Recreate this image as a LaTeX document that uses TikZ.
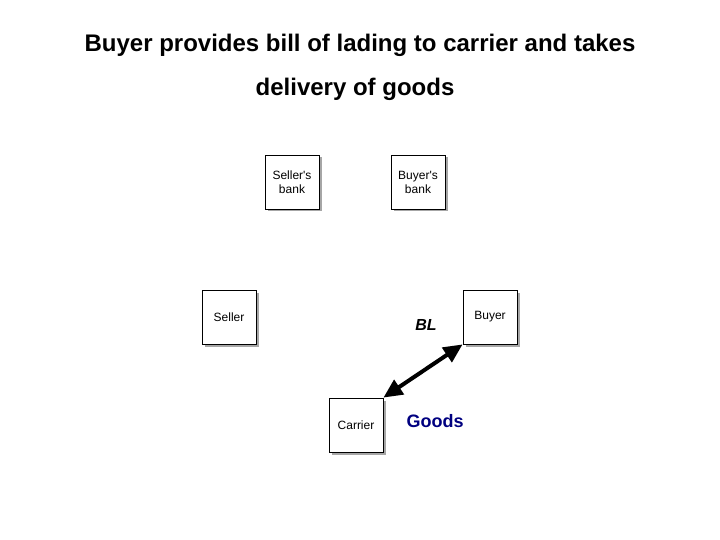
\documentclass[tikz,border=0pt]{standalone}
\usepackage{fontspec}
\setmainfont{Liberation Sans}
\usetikzlibrary{arrows.meta,shadows}
\begin{document}
\begin{tikzpicture}[x=1pt,y=-1pt,
  box/.style={draw=black,fill=white,line width=0.8pt,minimum width=54pt,minimum height=54pt,
    inner sep=1pt,align=center,font=\fontsize{12}{14}\selectfont,
    drop shadow={shadow xshift=2.5pt,shadow yshift=-2.5pt,fill=black!50,opacity=0.7}},
  title/.style={font=\fontsize{24}{28}\bfseries\selectfont}]
\useasboundingbox (0,0) rectangle (720,540);
\node[title] (t1) at (360,45) {Buyer provides bill of lading to carrier and takes};
\node[title] (t2) at (355,89) {delivery of goods};
\node[box] (sb) at (292,182) {Seller\textquotesingle s\\bank};
\node[box] (bb) at (418,182) {Buyer\textquotesingle s\\bank};
\node[box] (seller) at (229,317) {Seller};
\node[box] (buyer) at (490,317) {Buyer};
\node[box] (carrier) at (356,425) {Carrier};
\draw[line width=4pt,{Triangle[length=19pt,width=17pt]}-{Triangle[length=19pt,width=17pt]}] (carrier.north east) -- (buyer.south west);
\node[font=\fontsize{16}{18}\bfseries\itshape\selectfont] (bl) at (426,325) {BL};
\node[font=\fontsize{18}{20}\bfseries\selectfont,text={rgb,255:red,0;green,0;blue,128}] (goods) at (435,421) {Goods};
\end{tikzpicture}
\end{document}
